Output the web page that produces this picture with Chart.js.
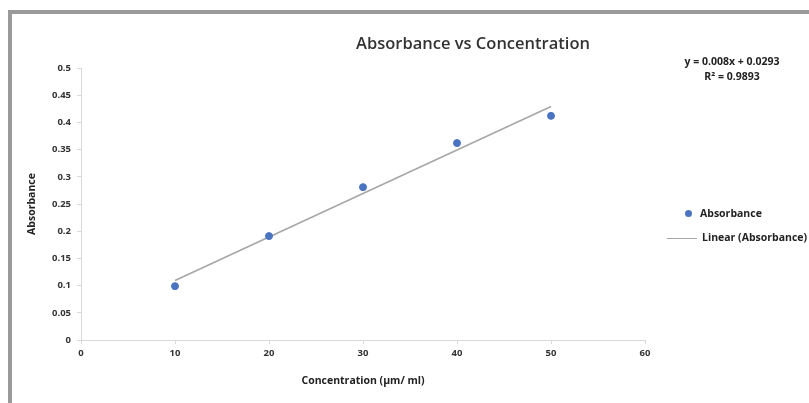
<!DOCTYPE html>
<html>
<head>
<meta charset="utf-8">
<script src="https://cdn.jsdelivr.net/npm/chart.js@4/dist/chart.umd.min.js"></script>
<style>
  body { margin: 0; background: #fff; font-family: "Open Sans", sans-serif; }
  #wrap { position: relative; width: 809px; height: 403px; overflow: hidden; }
  #frame { position: absolute; left: 8px; top: 10px; width: 900px; height: 500px;
           border-left: 4px solid #9a9a9a; border-top: 4px solid #9a9a9a; box-sizing: border-box; }
  canvas { position: absolute; left: 0; top: 0; }
  .txt { position: absolute; font-weight: bold; color: #222; font-size: 10.5px; white-space: nowrap; }
  .title { position: absolute; left: 356px; top: 31px; font-size: 16.5px; font-weight: 600; color: #333; white-space: nowrap; }
  .eq { position: absolute; left: 672px; top: 54px; width: 120px; text-align: center; font-size: 10.5px;
        font-weight: bold; color: #222; line-height: 15px; }
  .dot { display: inline-block; width: 7px; height: 7px; border-radius: 50%; background: #4a74c0; }
  .ln { display: inline-block; width: 30px; height: 0; border-top: 1.5px solid #a6a6a6; }
</style>
</head>
<body>
<div id="wrap">
  <div id="frame"></div>
  <canvas id="chart" width="809" height="403"></canvas>
  <div class="title">Absorbance vs Concentration</div>
  <div class="eq">y = 0.008x + 0.0293<br>R² = 0.9893</div>
  <div class="txt" style="left:685px; top:206px;"><span class="dot"></span><span style="margin-left:8px">Absorbance</span></div>
  <div class="txt" style="left:667px; top:230px;"><span class="ln" style="vertical-align:middle"></span><span style="margin-left:5px">Linear (Absorbance)</span></div>
</div>
<script>
const concentration = [10, 20, 30, 40, 50];
const absorbance = [0.099, 0.191, 0.281, 0.362, 0.412];
const trendX = [10, 50];
const trendY = [0.1093, 0.4293];
const xTicks = [0, 10, 20, 30, 40, 50, 60];
const yTicks = [0, 0.05, 0.1, 0.15, 0.2, 0.25, 0.3, 0.35, 0.4, 0.45, 0.5];
const yTickLabels = ['0', '0.05', '0.1', '0.15', '0.2', '0.25', '0.3', '0.35', '0.4', '0.45', '0.5'];

const tickFont = { family: 'Open Sans', size: 9.5, weight: 'bold' };

new Chart(document.getElementById('chart'), {
  type: 'scatter',
  data: {
    datasets: [{
      label: 'Absorbance',
      data: concentration.map((x, i) => ({ x, y: absorbance[i] })),
      backgroundColor: '#4a74c0',
      borderColor: '#4a74c0',
      pointRadius: 3.5
    }, {
      label: 'Linear (Absorbance)',
      type: 'line',
      data: trendX.map((x, i) => ({ x, y: trendY[i] })),
      borderColor: '#a6a6a6',
      borderWidth: 1.5,
      pointRadius: 0,
      fill: false
    }]
  },
  options: {
    responsive: false,
    animation: false,
    layout: { padding: { left: 22, right: 164, top: 68, bottom: 12 } },
    plugins: {
      legend: { display: false },
      tooltip: { enabled: false },
      title: { display: false }
    },
    scales: {
      x: {
        type: 'linear',
        min: 0, max: 60,
        afterBuildTicks: s => { s.ticks = xTicks.map(v => ({ value: v })); },
        afterFit: s => { s.height = 51; },
        ticks: { color: '#333', font: tickFont, padding: 4 },
        grid: { drawOnChartArea: false, tickLength: 4, color: '#d9d9d9' },
        border: { color: '#d9d9d9' },
        title: { display: true, text: 'Concentration (µm/ ml)', color: '#222',
                 font: { family: 'Open Sans', size: 10.5, weight: 'bold' }, padding: { top: 6 } }
      },
      y: {
        min: 0, max: 0.5,
        afterBuildTicks: s => { s.ticks = yTicks.map(v => ({ value: v })); },
        afterFit: s => { s.width = 59; },
        ticks: { color: '#333', font: tickFont, padding: 6,
                 callback: (v, i) => yTickLabels[i] },
        grid: { drawOnChartArea: false, tickLength: 4, color: '#d9d9d9' },
        border: { color: '#d9d9d9' },
        title: { display: true, text: 'Absorbance', color: '#222',
                 font: { family: 'Open Sans', size: 10.5, weight: 'bold' }, padding: { bottom: 6 } }
      }
    }
  }
});
</script>
</body>
</html>
